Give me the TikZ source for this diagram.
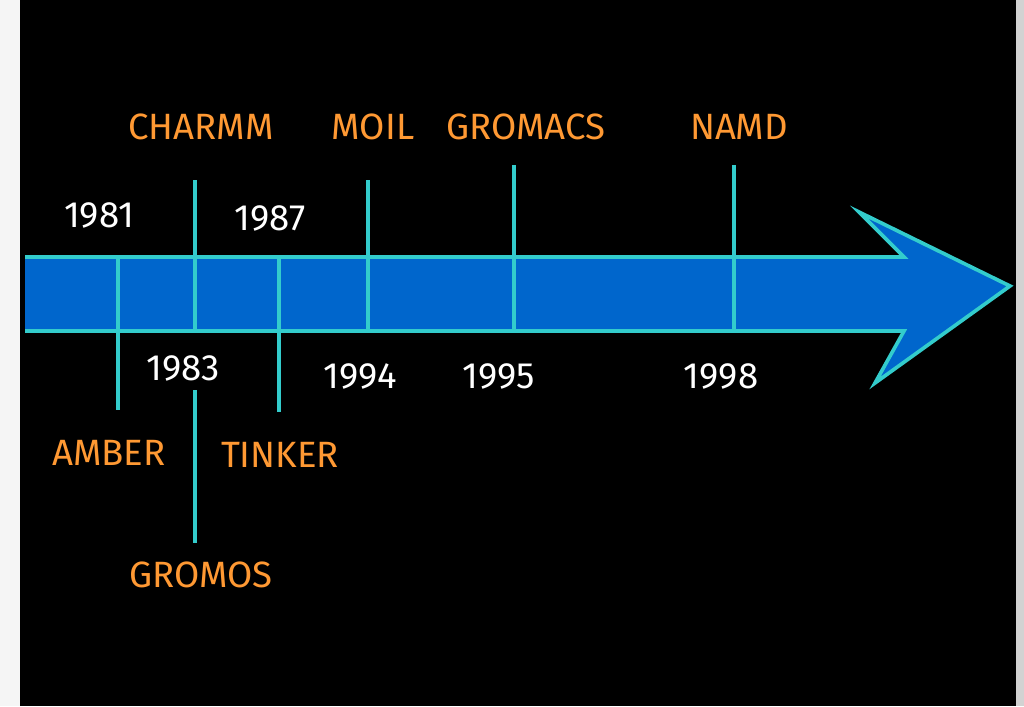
\documentclass[tikz,border=0pt]{standalone}
\usepackage{fontspec}
\setmainfont{Fira Sans}
\definecolor{shaftblue}{HTML}{0066CC}
\definecolor{rimcyan}{HTML}{33CCCC}
\definecolor{toolorange}{HTML}{FF9933}
\tikzset{
  year/.style={text=white, font=\fontsize{26}{30}\selectfont},
  tool/.style={text=toolorange, font=\fontsize{26}{30}\selectfont},
  tick/.style={rimcyan, line width=2.6pt}
}
\begin{document}
\begin{tikzpicture}[x=0.025cm, y=-0.025cm]
\useasboundingbox (0, 0) rectangle (1024, 706);
%Screen
\fill[gray!8] (0, 0) rectangle (20, 706);
\fill[black] (20, 0) rectangle (1016, 706);
\fill[gray!35] (1016, 0) rectangle (1024, 706);
%Arrow
\fill[shaftblue] (25, 257) -- (904, 257) -- (859, 212) -- (1010, 286) -- (875, 383) -- (904, 331) -- (25, 331) -- cycle;
\draw[tick, line join=miter]
  (25, 257) -- (904, 257) -- (859, 212) -- (1010, 286) -- (875, 383) -- (904, 331) -- (25, 331);
%Years
\node[year] (y81) at (99, 215) {1981};
\node[year] (y83) at (183, 368) {1983};
\node[year] (y87) at (270, 218) {1987};
\node[year] (y94) at (360, 376) {1994};
\node[year] (y95) at (499, 376) {1995};
\node[year] (y98) at (721, 376) {1998};
%Programs
\node[tool] (amber) at (109, 453) {AMBER};
\node[tool] (charmm) at (201, 127) {CHARMM};
\node[tool] (gromos) at (201, 575) {GROMOS};
\node[tool] (tinker) at (280, 455) {TINKER};
\node[tool] (moil) at (373, 127) {MOIL};
\node[tool] (gromacs) at (526, 127) {GROMACS};
\node[tool] (namd) at (739, 127) {NAMD};
%Ticks
\coordinate (a1) at (118, 256); \coordinate (a2) at (118, 410);
\coordinate (c1) at (195, 180); \coordinate (c2) at (195, 331);
\coordinate (g1) at (195, 390); \coordinate (g2) at (195, 543);
\coordinate (t1) at (279, 257); \coordinate (t2) at (279, 412);
\coordinate (m1) at (368, 180); \coordinate (m2) at (368, 331);
\coordinate (x1) at (514, 165); \coordinate (x2) at (514, 331);
\coordinate (n1) at (734, 165); \coordinate (n2) at (734, 331);
\foreach \p in {a, c, g, t, m, x, n}
  \draw[tick] (\p1) -- (\p2);
\end{tikzpicture}
\end{document}
